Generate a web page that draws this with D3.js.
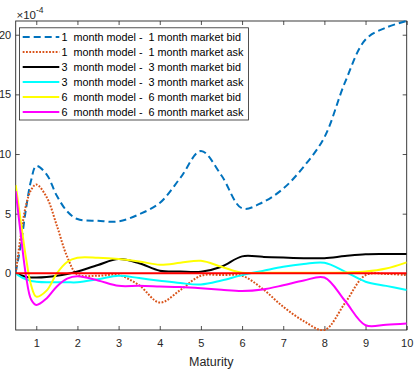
<!DOCTYPE html>
<html>
<head>
<meta charset="utf-8">
<script src="https://cdn.jsdelivr.net/npm/d3@7"></script>
<style>
  html, body { margin: 0; padding: 0; background: #fff; }
  svg { display: block; font-family: "Liberation Sans", Arial, Helvetica, sans-serif; }
</style>
</head>
<body>
<svg id="chart" width="414" height="372"></svg>
<script>
// Maturity grid (years) shared by every series
const maturity = [0.5, 0.625, 0.75, 0.875, 1, 1.25, 1.5, 1.75, 2, 2.5, 3, 3.5, 4, 4.5, 5, 5.5, 6, 6.5, 7, 7.5, 8, 8.5, 9, 9.5, 10];

// Model minus market differences, in units of 1e-4
const bid1m = [0.1, 2.4, 5.4, 7.8, 9.0, 8.3, 6.5, 5.2, 4.55, 4.4, 4.35, 4.95, 5.9, 8.0, 10.25, 8.2, 5.45, 5.95, 7.1, 8.95, 11.4, 16.0, 19.6, 20.6, 21.15];
const ask1m = [0.0, 3.2, 5.7, 7.0, 7.45, 6.4, 4.0, 1.4, -0.1, -0.2, -0.15, -1.0, -2.45, -1.4, -0.2, -0.15, -0.2, -1.3, -2.8, -4.0, -4.75, -2.5, -0.15, -0.05, -0.15];
const bid3m = [0.0, -0.15, -0.3, -0.35, -0.35, -0.3, -0.2, -0.05, 0.15, 0.7, 1.2, 0.85, 0.22, 0.15, 0.13, 0.55, 1.42, 1.38, 1.32, 1.27, 1.27, 1.45, 1.6, 1.62, 1.62];
const ask3m = [0.0, -0.3, -0.5, -0.65, -0.7, -0.75, -0.75, -0.75, -0.75, -0.5, -0.2, -0.4, -0.62, -0.82, -0.93, -0.6, -0.15, 0.2, 0.55, 0.78, 0.89, 0.15, -0.7, -1.05, -1.4];
const bid6m = [7.4, 4.3, 1.3, -1.0, -1.95, -1.45, 0.0, 0.95, 1.3, 1.3, 1.2, 1.0, 0.72, 0.88, 1.05, 0.55, 0.05, 0.05, 0.05, 0.05, 0.05, 0.08, 0.15, 0.4, 0.92];
const ask6m = [6.9, 3.2, -0.2, -2.2, -2.65, -2.1, -1.1, -0.45, -0.25, -0.6, -1.05, -1.05, -1.1, -1.15, -1.25, -1.38, -1.48, -1.35, -1.0, -0.6, -0.35, -2.3, -4.35, -4.3, -4.2];

const legendLabels = [
  "1  month model -  1 month market bid",
  "1  month model -  1 month market ask",
  "3  month model -  3 month market bid",
  "3  month model -  3 month market ask",
  "6  month model -  6 month market bid",
  "6  month model -  6 month market ask"
];
const xTicks = [1, 2, 3, 4, 5, 6, 7, 8, 9, 10];
const yTicks = [0, 5, 10, 15, 20];

const seriesValues = [bid1m, ask1m, bid3m, ask3m, bid6m, ask6m];
const seriesColors = ["#0072BD", "#D95319", "#000000", "#00FFFF", "#FFFF00", "#FF00FF"];
const seriesDash = ["7,4", "1.8,1.5", null, null, null, null];

const svg = d3.select("#chart");
const axisColor = "#262626";
const m = { left: 15.7, right: 406.7, top: 21, bottom: 330 };

const x = d3.scaleLinear().domain([0.5, 10]).range([m.left, m.right]);
const y = d3.scaleLinear().domain([-4.75, 21.15]).range([m.bottom, m.top]);

svg.append("defs").append("clipPath").attr("id", "plotClip")
  .append("rect")
  .attr("x", m.left).attr("y", m.top - 1)
  .attr("width", m.right - m.left).attr("height", m.bottom - m.top + 2);

// Axes: ticks point inward on all four sides
const tickLen = 4;
const gx = svg.append("g").attr("transform", `translate(0,${m.bottom})`)
  .call(d3.axisBottom(x).tickValues(xTicks).tickSizeInner(-tickLen).tickSizeOuter(0).tickPadding(9));
const gxTop = svg.append("g").attr("transform", `translate(0,${m.top})`)
  .call(d3.axisTop(x).tickValues(xTicks).tickSizeInner(-tickLen).tickSizeOuter(0).tickFormat(""));
const gy = svg.append("g").attr("transform", `translate(${m.left},0)`)
  .call(d3.axisLeft(y).tickValues(yTicks).tickSizeInner(-tickLen).tickSizeOuter(0).tickPadding(4.5));
const gyRight = svg.append("g").attr("transform", `translate(${m.right},0)`)
  .call(d3.axisRight(y).tickValues(yTicks).tickSizeInner(-tickLen).tickSizeOuter(0).tickFormat(""));

[gx, gxTop, gy, gyRight].forEach(g => {
  g.select(".domain").remove();
  g.selectAll(".tick line").attr("stroke", axisColor).attr("stroke-width", 0.8);
  g.selectAll(".tick text").attr("fill", axisColor).style("font-size", "11px")
    .style("font-family", '"Liberation Sans", Arial, sans-serif');
});

// Box around plot area
svg.append("rect")
  .attr("x", m.left).attr("y", m.top)
  .attr("width", m.right - m.left).attr("height", m.bottom - m.top)
  .attr("fill", "none").attr("stroke", axisColor).attr("stroke-width", 0.9);

// Curves
const line = d3.line()
  .x((d, i) => x(maturity[i]))
  .y(d => y(d))
  .curve(d3.curveCatmullRom.alpha(0.5));

const plot = svg.append("g").attr("clip-path", "url(#plotClip)");
seriesValues.forEach((vals, k) => {
  plot.append("path")
    .attr("d", line(vals))
    .attr("fill", "none")
    .attr("stroke", seriesColors[k])
    .attr("stroke-width", 2)
    .attr("stroke-dasharray", seriesDash[k])
    .attr("stroke-linejoin", "round");
});

// Zero reference line
plot.append("line")
  .attr("x1", x(0.5)).attr("x2", x(10))
  .attr("y1", y(0)).attr("y2", y(0))
  .attr("stroke", "#FF0000").attr("stroke-width", 2);

// Exponent label
const expo = svg.append("text")
  .attr("x", 16.5).attr("y", 18.5)
  .attr("fill", axisColor)
  .style("font-size", "11.5px");
expo.append("tspan").text("\u00d710");
expo.append("tspan").attr("dy", -5.5).style("font-size", "8.5px").text("-4");

// X axis title
svg.append("text")
  .attr("x", (m.left + m.right) / 2).attr("y", 365.5)
  .attr("text-anchor", "middle")
  .attr("fill", axisColor)
  .style("font-size", "12.5px")
  .text("Maturity");

// Legend
const lg = svg.append("g");
lg.append("rect")
  .attr("x", 19.5).attr("y", 27.8)
  .attr("width", 229).attr("height", 92.2)
  .attr("fill", "#fff").attr("stroke", axisColor).attr("stroke-width", 0.8);
legendLabels.forEach((lab, k) => {
  const cy = 37 + k * 15;
  lg.append("line")
    .attr("x1", 22.7).attr("x2", 59.3)
    .attr("y1", cy).attr("y2", cy)
    .attr("stroke", seriesColors[k]).attr("stroke-width", 2)
    .attr("stroke-dasharray", seriesDash[k]);
  lg.append("text")
    .attr("x", 61.5).attr("y", cy + 3.9)
    .attr("fill", "#000")
    .style("font-size", "10.8px")
    .style("white-space", "pre")
    .text(lab);
});
</script>
</body>
</html>
